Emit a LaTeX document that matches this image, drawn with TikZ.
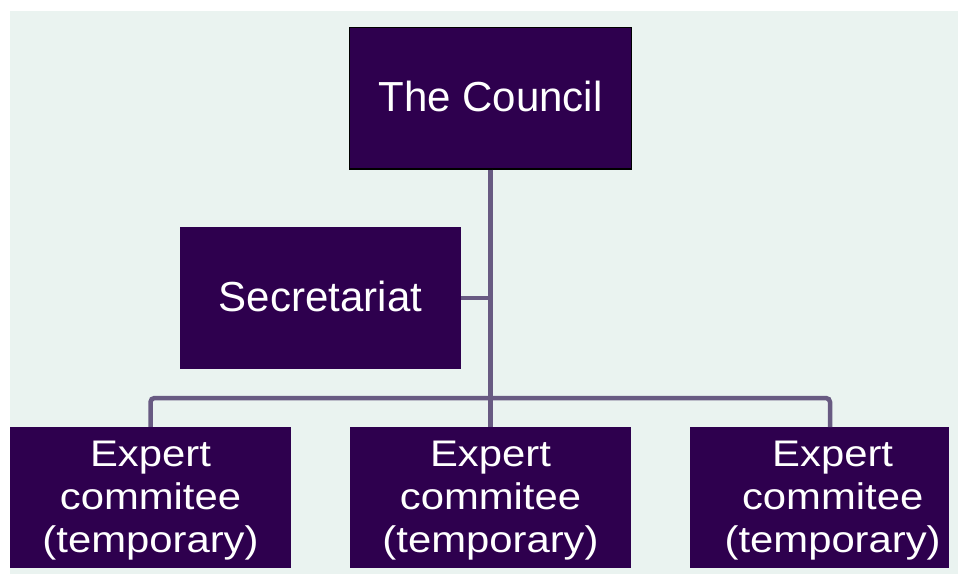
\documentclass[tikz,border=0pt]{standalone}
\usepackage{fontspec}
\setmainfont{Liberation Sans}
\newfontfamily\expfont[FakeStretch=1.13]{Liberation Sans}
\definecolor{bgc}{HTML}{EAF3F0}
\definecolor{boxc}{HTML}{2E004E}
\definecolor{linec}{HTML}{685A82}
\newcommand{\mylift}[2]{\raisebox{#1}[\height][\depth]{#2}}
\newcommand{\expstack}{\begin{tabular}{@{}c@{}}Expert\\commitee\\(temporary)\end{tabular}}
\begin{document}
\begin{tikzpicture}[x=1pt,y=-1pt,
  box/.style={fill=boxc, text=white, inner sep=0pt, minimum width=281pt, minimum height=141pt},
  bigtext/.style={font=\fontsize{42}{50}\selectfont},
  exptext/.style={font=\expfont\fontsize{37}{43}\selectfont},
  conn/.style={draw=linec, line width=4.5pt}]
\useasboundingbox (0,0) rectangle (958,574);
\fill[bgc] (10,11) rectangle (958,574);
\node[box, bigtext, draw=black, line width=1.3pt, minimum width=282.4pt, minimum height=141.7pt] (council) at (490.5,98.2) {\mylift{2pt}{The Council}};
\node[box, bigtext, minimum height=141.4pt] (sec) at (320.5,298) {\mylift{2pt}{Secretariat}};
\node[box, exptext] (e1) at (150.5,497.5) {\mylift{-3pt}{\expstack}};
\node[box, exptext] (e2) at (490.5,497.5) {\mylift{-3pt}{\expstack}};
\node[box, exptext, minimum width=259.3pt] (e3) at (819.65,497.5) {\hspace*{26pt}\mylift{-3pt}{\expstack}};
\coordinate (bus) at (490.5,398);
\coordinate (e3top) at (830,427);
\draw[conn] (council.south) -- (e2.north);
\draw[conn] (sec.east) -- (sec.east -| council.south);
\draw[conn, rounded corners=4pt] (e1.north) |- (bus) -| (e3top);
\end{tikzpicture}
\end{document}
